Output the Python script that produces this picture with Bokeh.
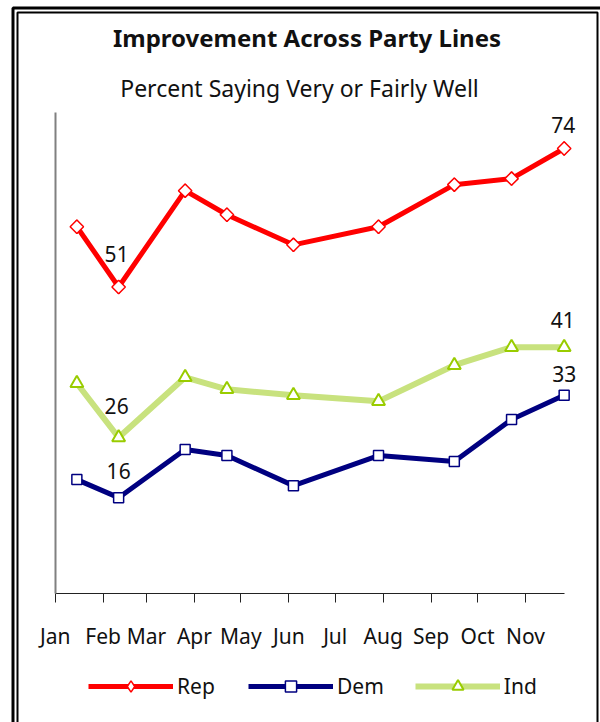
import math
from bokeh.plotting import figure
from bokeh.models import (Range1d, FixedTicker, Legend, LegendItem, Label, BoxAnnotation)
from bokeh.embed import file_html
from bokeh.resources import INLINE

# ---- data ----
months = ["Jan", "Feb", "Mar", "Apr", "May", "Jun", "Jul", "Aug", "Sep", "Oct", "Nov"]
month_start_days = [0, 31, 59, 90, 120, 151, 181, 212, 243, 273, 304]
survey_days = [14, 41, 84, 111, 154, 209, 258, 295, 329]
rep = [61, 51, 67, 63, 58, 61, 68, 69, 74]
dem = [19, 16, 24, 23, 18, 23, 22, 29, 33]
ind = [35, 26, 36, 34, 33, 32, 38, 41, 41]

title_text = "Improvement Across Party Lines"
subtitle_text = "Percent Saying Very or Fairly Well"

FONT = "Noto Sans"
W, H = 600, 722

p = figure(width=W, height=H, output_backend="svg", toolbar_location=None,
           x_range=Range1d(-35.36, 352.49), y_range=Range1d(-21.35, 98.59),
           min_border_left=0, min_border_right=0, min_border_top=0, min_border_bottom=0)
p.title.visible = False
p.outline_line_color = None
p.xgrid.visible = False
p.ygrid.visible = False
p.background_fill_color = "white"
p.border_fill_color = "white"

# x axis, drawn at value 0
xa = p.xaxis[0]
xa.fixed_location = 0
xa.ticker = FixedTicker(ticks=month_start_days)
xa.major_label_overrides = {d: m for d, m in zip(month_start_days, months)}
xa.bounds = (0, 329.5)
xa.axis_line_color = "#222222"
xa.axis_line_width = 1
xa.major_tick_line_color = "#222222"
xa.major_tick_out = 9
xa.major_tick_in = 0
xa.minor_tick_line_color = None
xa.major_label_text_font = FONT
xa.major_label_text_font_size = "21px"
xa.major_label_text_color = "#111111"
xa.major_label_standoff = 19

# y axis (line only), drawn at day 0
ya = p.yaxis[0]
ya.fixed_location = 0
ya.bounds = (0, 80)
ya.ticker = FixedTicker(ticks=[])
ya.axis_line_color = "#808080"
ya.axis_line_width = 2
ya.major_tick_line_color = None
ya.minor_tick_line_color = None

# series
r_line = p.line(survey_days, rep, line_color="#ff0000", line_width=5)
# diamond swatch used by the legend (hidden under the rotated squares below)
r_key = p.scatter(survey_days, rep, marker="diamond", size=13,
                  fill_color="white", line_color="#ff0000", line_width=1.5)
r_pts = p.scatter(survey_days, rep, marker="square", angle=math.pi / 4, size=9.5,
                  fill_color="white", line_color="#ff0000", line_width=1.5)
d_line = p.line(survey_days, dem, line_color="#000080", line_width=5)
d_pts = p.scatter(survey_days, dem, marker="square", size=10,
                  fill_color="white", line_color="#000080", line_width=1.5)
i_line = p.line(survey_days, ind, line_color="#c8e27e", line_width=6)
i_pts = p.scatter(survey_days, ind, marker="triangle", size=13,
                  fill_color="white", line_color="#99cc00", line_width=2)

# data labels (series, index, pixel offsets)
label_specs = [(rep, 1, -2, 33), (rep, 8, -1, 24),
               (ind, 1, -2, 31), (ind, 8, -1.5, 27),
               (dem, 1, 0, 27), (dem, 8, 0, 21)]
for series, idx, dx, dy in label_specs:
    p.add_layout(Label(x=survey_days[idx], y=series[idx], text=str(series[idx]),
                       x_offset=dx, y_offset=dy, text_align="center",
                       text_baseline="middle", text_font=FONT,
                       text_font_size="21px", text_color="#111111"))

# title & subtitle (screen units: from left / from bottom of the canvas)
p.add_layout(Label(x=306.5, y=H - 37, x_units="screen", y_units="screen", text=title_text,
                   text_align="center", text_baseline="middle", text_font=FONT,
                   text_font_size="24px", text_font_style="bold", text_color="#111111"))
p.add_layout(Label(x=299, y=H - 87, x_units="screen", y_units="screen", text=subtitle_text,
                   text_align="center", text_baseline="middle", text_font=FONT,
                   text_font_size="23px", text_color="#111111"))

# double frame
p.add_layout(BoxAnnotation(left=12.5, right=601, top=H - 7.5, bottom=-100,
                           left_units="screen", right_units="screen",
                           top_units="screen", bottom_units="screen",
                           fill_alpha=0, line_color="black", line_alpha=1.0, line_width=3))
p.add_layout(BoxAnnotation(left=17, right=597, top=H - 12, bottom=-100,
                           left_units="screen", right_units="screen",
                           top_units="screen", bottom_units="screen",
                           fill_alpha=0, line_color="black", line_alpha=1.0, line_width=2))

# legend
legend = Legend(items=[LegendItem(label="Rep", renderers=[r_line, r_key]),
                       LegendItem(label="Dem", renderers=[d_line, d_pts]),
                       LegendItem(label="Ind", renderers=[i_line, i_pts])],
                orientation="horizontal", location=(88, 22),
                glyph_width=85, glyph_height=28, label_height=28, label_width=40,
                label_standoff=4, spacing=31, padding=0, margin=0,
                border_line_color=None, background_fill_alpha=0,
                label_text_font=FONT, label_text_font_size="21px",
                label_text_color="#111111")
p.add_layout(legend, "center")

open("out.html", "w").write(file_html(p, INLINE))
